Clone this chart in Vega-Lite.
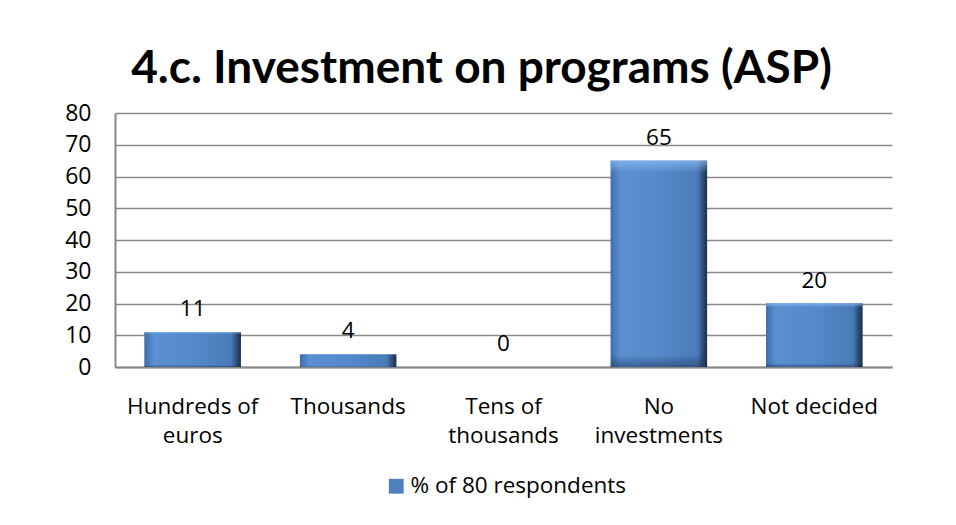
{
  "$schema": "https://vega.github.io/schema/vega-lite/v6.json",
  "width": 777,
  "height": 254,
  "autosize": {"type": "none"},
  "padding": {"left": 115, "top": 113, "right": 64, "bottom": 158},
  "background": "white",
  "title": {
    "text": "4.c. Investment on programs (ASP)",
    "font": "Lato",
    "fontSize": 46,
    "fontWeight": "bold",
    "color": "black",
    "anchor": "middle",
    "frame": "group",
    "dx": -22,
    "offset": 9
  },
  "data": {
    "values": [
      {"category": "Hundreds of euros", "value": 11, "series": "% of 80 respondents"},
      {"category": "Thousands", "value": 4, "series": "% of 80 respondents"},
      {"category": "Tens of thousands", "value": 0, "series": "% of 80 respondents"},
      {"category": "No investments", "value": 65, "series": "% of 80 respondents"},
      {"category": "Not decided", "value": 20, "series": "% of 80 respondents"}
    ]
  },
  "encoding": {
    "x": {
      "field": "category",
      "type": "nominal",
      "sort": null,
      "scale": {"paddingInner": 0.38, "paddingOuter": 0.19},
      "axis": {
        "title": null,
        "labelAngle": 0,
        "ticks": false,
        "labelPadding": 28,
        "labelFont": "Open Sans",
        "labelFontSize": 22.5,
        "labelColor": "black",
        "labelLineHeight": 29,
        "labelLimit": 0,
        "domainColor": "#878787",
        "domainWidth": 2,
        "labelExpr": "datum.value == 'Hundreds of euros' ? ['Hundreds of', 'euros'] : datum.value == 'Tens of thousands' ? ['Tens of', 'thousands'] : datum.value == 'No investments' ? ['No', 'investments'] : datum.value"
      }
    },
    "y": {
      "field": "value",
      "type": "quantitative",
      "scale": {"domain": [0, 80]},
      "axis": {
        "title": null,
        "values": [0, 10, 20, 30, 40, 50, 60, 70, 80],
        "ticks": false,
        "labelPadding": 24,
        "labelFont": "Open Sans",
        "labelFontSize": 23,
        "labelColor": "black",
        "gridColor": "#8a8a8a",
        "gridWidth": 1.6,
        "domainColor": "#878787",
        "domainWidth": 2
      }
    }
  },
  "layer": [
    {
      "mark": {"type": "bar", "cornerRadius": 0},
      "encoding": {
        "color": {
          "field": "series",
          "type": "nominal",
          "scale": {"range": ["#4F81BD"]},
          "legend": {
            "title": null,
            "orient": "none",
            "legendX": 270,
            "legendY": 362,
            "symbolType": "square",
            "symbolSize": 220,
            "symbolStrokeWidth": 0,
            "labelFont": "Open Sans",
            "labelFontSize": 22.5,
            "labelColor": "black",
            "labelLimit": 0,
            "labelOffset": 3
          }
        }
      }
    },
    {
      "mark": {
        "type": "bar",
        "fill": {
          "x1": 0, "y1": 0, "x2": 1, "y2": 0,
          "gradient": "linear",
          "stops": [
            {"offset": 0, "color": "#3f6fa8"},
            {"offset": 0.1, "color": "#5a8fd2"},
            {"offset": 0.5, "color": "#5589cc"},
            {"offset": 0.9, "color": "#4a7bb8"},
            {"offset": 0.96, "color": "#2c4a72"},
            {"offset": 1, "color": "#1c2f48"}
          ]
        }
      }
    },
    {
      "mark": {
        "type": "bar",
        "fill": {
          "x1": 0, "y1": 0, "x2": 0, "y2": 1,
          "gradient": "linear",
          "stops": [
            {"offset": 0, "color": "rgba(140,190,245,0.7)"},
            {"offset": 0.06, "color": "rgba(140,190,245,0.0)"},
            {"offset": 0.94, "color": "rgba(20,40,70,0.0)"},
            {"offset": 1, "color": "rgba(20,40,70,0.45)"}
          ]
        }
      }
    },
    {
      "mark": {
        "type": "text",
        "baseline": "bottom",
        "dy": -11,
        "font": "Open Sans",
        "fontSize": 22.5,
        "color": "black"
      },
      "encoding": {"text": {"field": "value", "type": "quantitative"}}
    }
  ],
  "config": {
    "view": {"stroke": null}
  }
}
